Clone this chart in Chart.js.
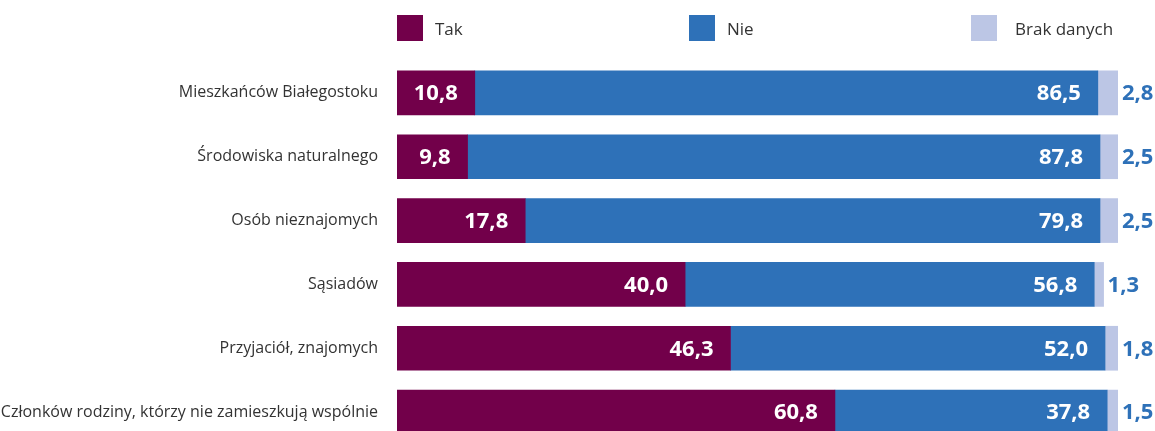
<!DOCTYPE html>
<html lang="pl">
<head>
<meta charset="UTF-8">
<title>Zaufanie</title>
<script src="https://cdn.jsdelivr.net/npm/chart.js@4.4.1/dist/chart.umd.min.js"></script>
<style>
    html, body {
        margin: 0;
        padding: 0;
        background: #fff;
        overflow: hidden;
        font-family: "Open Sans", sans-serif;
    }
    #wrap {
        position: relative;
        width: 1155px;
        height: 444px;
    }
    #chart {
        position: absolute;
        top: 0;
        left: 0;
    }
    #legend {
        position: absolute;
        top: 15px;
        left: 0;
        width: 1155px;
        height: 26px;
        z-index: 2;
    }
    .item {
        position: absolute;
        top: 0;
        height: 26px;
        display: flex;
        align-items: center;
        font-size: 17px;
        color: #333;
    }
    .item span.box {
        width: 26px;
        height: 26px;
        display: inline-block;
    }
</style>
</head>
<body>
<div id="wrap">
    <canvas id="chart" width="1155" height="444"></canvas>
    <div id="legend"></div>
</div>
<script>
    const categories = [
        'Mieszkańców Białegostoku',
        'Środowiska naturalnego',
        'Osób nieznajomych',
        'Sąsiadów',
        'Przyjaciół, znajomych',
        'Członków rodziny, którzy nie zamieszkują wspólnie'
    ];
    const seriesNames = ['Tak', 'Nie', 'Brak danych'];
    const tak = [10.8, 9.8, 17.8, 40.0, 46.3, 60.8];
    const nie = [86.5, 87.8, 79.8, 56.8, 52.0, 37.8];
    const brak = [2.8, 2.5, 2.5, 1.3, 1.8, 1.5];

    const colors = ['#72004a', '#2e71b8', '#bcc6e5'];
    const legendLeft = [397, 689, 971];
    const legendGap = [12, 12, 18];

    // legend drawn as plain html so the items can sit at fixed spots
    const legend = document.getElementById('legend');
    seriesNames.forEach((name, i) => {
        const el = document.createElement('div');
        el.className = 'item';
        el.style.left = legendLeft[i] + 'px';
        el.innerHTML = '<span class="box" style="background:' + colors[i] + '"></span>' +
            '<span style="margin-left:' + legendGap[i] + 'px">' + name + '</span>';
        legend.appendChild(el);
    });

    const fmt = v => v.toFixed(1).replace('.', ',');

    // value labels: white inside the first two segments, blue after the last one
    const valueLabels = {
        id: 'valueLabels',
        afterDatasetsDraw(chart) {
            const ctx = chart.ctx;
            ctx.save();
            ctx.font = 'bold 22px "Open Sans"';
            ctx.textBaseline = 'middle';
            chart.data.datasets.forEach((ds, di) => {
                const meta = chart.getDatasetMeta(di);
                meta.data.forEach((bar, i) => {
                    const txt = fmt(ds.data[i]);
                    if (di < 2) {
                        ctx.fillStyle = '#fff';
                        ctx.textAlign = 'right';
                        ctx.fillText(txt, bar.x - 17, bar.y + 1);
                    } else {
                        ctx.fillStyle = '#2e71b8';
                        ctx.textAlign = 'left';
                        ctx.fillText(txt, bar.x + 4, bar.y + 1);
                    }
                });
            });
            ctx.restore();
        }
    };

    const data = [tak, nie, brak];

    new Chart(document.getElementById('chart'), {
        type: 'bar',
        data: {
            labels: categories,
            datasets: seriesNames.map((name, i) => ({
                label: name,
                data: data[i],
                backgroundColor: colors[i],
                borderWidth: 0,
                barThickness: 44
            }))
        },
        options: {
            indexAxis: 'y',
            responsive: false,
            animation: false,
            layout: {
                padding: { top: 61, right: 37, bottom: 0, left: 0 }
            },
            plugins: {
                legend: { display: false },
                tooltip: { enabled: false }
            },
            scales: {
                x: {
                    stacked: true,
                    display: false,
                    min: 0,
                    max: 100.1
                },
                y: {
                    stacked: true,
                    grid: { display: false, drawTicks: false },
                    border: { display: false },
                    ticks: {
                        padding: 19,
                        color: '#333',
                        font: { family: '"Open Sans"', size: 16 }
                    },
                    afterFit(scale) {
                        scale.width = 397;
                        // rows run to the bottom edge, no room kept for half labels
                        scale.paddingTop = 0;
                        scale.paddingBottom = 0;
                    }
                }
            }
        },
        plugins: [valueLabels]
    });
</script>
</body>
</html>
